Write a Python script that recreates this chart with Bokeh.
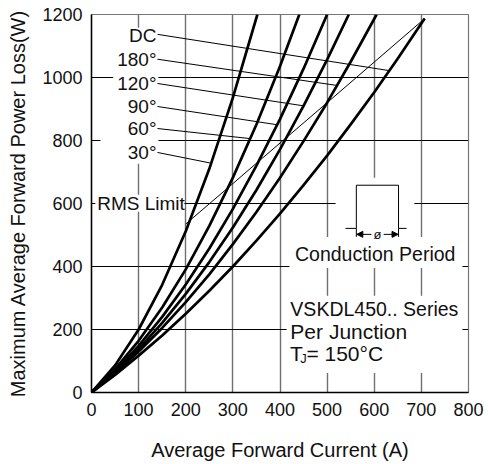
from bokeh.plotting import figure
from bokeh.models import Range1d, FixedTicker, Label, Arrow, NormalHead
from bokeh.embed import file_html
from bokeh.resources import INLINE

# ---------------- data ----------------
current_30 = [0, 50, 100, 150, 200, 250, 300, 352]
power_30 = [0, 86, 200, 342, 512, 710, 936, 1200]

current_60 = [0, 50, 100, 150, 200, 250, 300, 350, 400, 441]
power_60 = [0, 74, 164, 270, 391, 529, 682, 851, 1036, 1200]

current_90 = [0, 50, 100, 150, 200, 250, 300, 350, 400, 450, 500]
power_90 = [0, 68, 148, 240, 343, 457, 583, 720, 868, 1028, 1200]

current_120 = [0, 50, 100, 150, 200, 250, 300, 350, 400, 450, 500, 546]
power_120 = [0, 64, 138, 221, 313, 414, 524, 643, 772, 910, 1057, 1200]

current_180 = [0, 50, 100, 150, 200, 250, 300, 350, 400, 450, 500, 550, 605]
power_180 = [0, 61, 130, 205, 287, 375, 471, 573, 682, 798, 920, 1050, 1200]

current_dc = [0, 50, 100, 150, 200, 250, 300, 350, 400, 450, 500, 550, 600, 650, 707]
power_dc = [0, 56, 117, 181, 250, 323, 400, 482, 568, 658, 752, 851, 953, 1060, 1187]

rms_current = [200, 289, 354, 408, 500, 707]
rms_power = [535, 649, 733, 802, 920, 1187]

curve_labels = ["DC", "180°", "120°", "90°", "60°", "30°"]
x_ticks = [0, 100, 200, 300, 400, 500, 600, 700, 800]
y_ticks = [0, 200, 400, 600, 800, 1000, 1200]

FONT = "Liberation Sans"
INK = "#111111"

p = figure(width=488, height=464, x_range=Range1d(0, 800), y_range=Range1d(0, 1200),
           output_backend="svg", toolbar_location=None,
           min_border_left=91, min_border_right=20, min_border_top=14, min_border_bottom=72)
p.background_fill_color = "white"
p.border_fill_color = "white"
p.outline_line_color = "#777777"
p.outline_line_width = 1.2

# axes
for ax in (p.xaxis, p.yaxis):
    ax.major_tick_out = 0
    ax.major_tick_in = 0
    ax.minor_tick_out = 0
    ax.minor_tick_in = 0
    ax.axis_line_color = "black"
    ax.axis_line_width = 1.5
    ax.major_label_text_font = FONT
    ax.major_label_text_font_size = "18px"
    ax.major_label_text_color = INK
    ax.axis_label_text_font = FONT
    ax.axis_label_text_font_size = "20px"
    ax.axis_label_text_font_style = "normal"
    ax.axis_label_text_color = INK
p.xaxis.ticker = FixedTicker(ticks=x_ticks)
p.yaxis.ticker = FixedTicker(ticks=y_ticks)
p.xaxis.major_label_standoff = 10
p.yaxis.major_label_standoff = 9
p.xaxis.axis_label_standoff = 20
p.yaxis.axis_label_standoff = 10
p.xaxis.axis_label = "Average Forward Current (A)"
p.yaxis.axis_label = "Maximum Average Forward Power Loss(W)"

# grid
p.xgrid.ticker = FixedTicker(ticks=x_ticks)
p.ygrid.ticker = FixedTicker(ticks=y_ticks)
p.xgrid.grid_line_color = "#6f6f6f"
p.xgrid.grid_line_width = 1.4
p.ygrid.grid_line_color = "black"
p.ygrid.grid_line_width = 1.2

# white backgrounds behind texts (break the grid lines like the reference)
p.quad(left=[46, 19, 8, 518, 420, 414], right=[142, 142, 197, 685, 787, 787],
       bottom=[855, 726, 574, 494, 395, 62], top=[1158, 855, 628, 682, 494, 307],
       fill_color="white", line_color=None)

# curves
for xs, ys in [(current_30, power_30), (current_60, power_60), (current_90, power_90),
               (current_120, power_120), (current_180, power_180), (current_dc, power_dc)]:
    p.line(xs, ys, line_color="black", line_width=2.7, line_join="round")

# RMS limit (thin)
p.line(rms_current, rms_power, line_color="black", line_width=1)

# leader lines from labels to curves
lead_x0 = [140, 140, 140, 140, 140, 140]
lead_y0 = [1137, 1058, 981, 908, 838, 762]
lead_x1 = [631, 520, 450, 394, 337, 254]
lead_y1 = [1022, 975, 910, 850, 806, 728]
p.segment(x0=lead_x0, y0=lead_y0, x1=lead_x1, y1=lead_y1, line_color="black", line_width=1)

label_y = [1134, 1058, 982, 909, 838, 763]
for txt, yy in zip(curve_labels, label_y):
    p.add_layout(Label(x=138, y=yy, text=txt, text_align="right", text_baseline="middle",
                       text_font=FONT, text_font_size="19px", text_color=INK))

p.add_layout(Label(x=12, y=601, text="RMS Limit", text_align="left", text_baseline="middle",
                   text_font=FONT, text_font_size="19px", text_color=INK))

# conduction period icon
p.line([539, 562, 562, 651.5, 651.5, 668.5], [521, 521, 658, 658, 521, 521],
       line_color="black", line_width=1)
p.segment(x0=[562, 651.5], y0=[521, 521], x1=[562, 651.5], y1=[494, 494],
          line_color="black", line_width=1)
p.add_layout(Arrow(end=NormalHead(size=6, fill_color="black", line_color="black"),
                   x_start=594, y_start=502, x_end=563, y_end=502, line_width=1))
p.add_layout(Arrow(end=NormalHead(size=6, fill_color="black", line_color="black"),
                   x_start=620, y_start=502, x_end=650.5, y_end=502, line_width=1))
p.add_layout(Label(x=607, y=502, text="ø", text_align="center", text_baseline="middle",
                   text_font=FONT, text_font_size="13px", text_color=INK))
p.add_layout(Label(x=602, y=440, text="Conduction Period", text_align="center",
                   text_baseline="middle", text_font=FONT, text_font_size="19.5px", text_color=INK))

# series text block
p.add_layout(Label(x=422, y=264, text="VSKDL450.. Series", text_align="left",
                   text_baseline="middle", text_font=FONT, text_font_size="19.5px", text_color=INK))
p.add_layout(Label(x=422, y=195, text="Per Junction", text_align="left",
                   text_baseline="middle", text_font=FONT, text_font_size="21px", text_color=INK))
p.add_layout(Label(x=421, y=125, text="T", text_align="left",
                   text_baseline="middle", text_font=FONT, text_font_size="21px", text_color=INK))
p.add_layout(Label(x=443, y=108, text="J", text_align="left",
                   text_baseline="middle", text_font=FONT, text_font_size="13px", text_color=INK))
p.add_layout(Label(x=456, y=125, text="= 150°C", text_align="left",
                   text_baseline="middle", text_font=FONT, text_font_size="21px", text_color=INK))

open("out.html", "w").write(file_html(p, INLINE))
